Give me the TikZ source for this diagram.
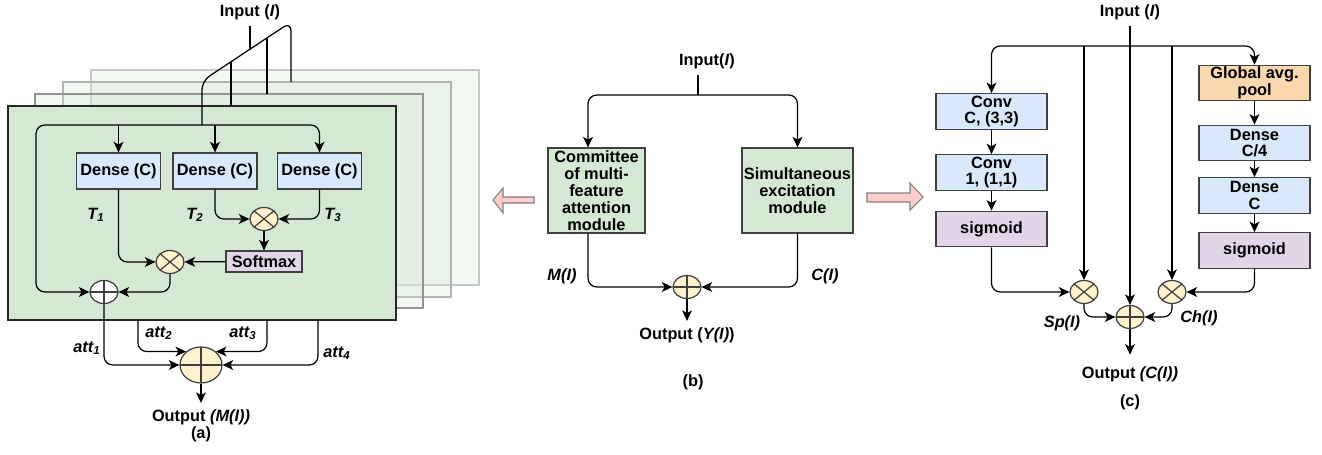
\documentclass[tikz,border=0pt]{standalone}
\usepackage{fontspec}
\setmainfont{Liberation Sans}
\usetikzlibrary{arrows.meta,positioning,shapes.geometric}

\definecolor{modgreen}{HTML}{D5E8D4}
\definecolor{densblue}{HTML}{DAE8FC}
\definecolor{sigpurple}{HTML}{E1D5E7}
\definecolor{poolorange}{HTML}{FAD7AC}
\definecolor{opyellow}{HTML}{FFF2CC}
\definecolor{hintpink}{HTML}{FFCCCC}

\tikzset{
  every node/.append style={font=\fontsize{9.3}{9.6}\selectfont\bfseries},
  blk/.style={draw=black!75, fill=#1, align=center, inner sep=0pt,
    minimum width=2.22cm, minimum height=0.71cm},
  opcirc/.style={ellipse, draw=black!75, fill=opyellow, inner sep=0pt,
    minimum width=0.56cm, minimum height=0.46cm},
  mul/.style={opcirc, path picture={
    \draw[black!75] (path picture bounding box.south west) -- (path picture bounding box.north east)
      (path picture bounding box.north west) -- (path picture bounding box.south east);}},
  add/.style={opcirc, path picture={
    \draw[black!75] (path picture bounding box.south) -- (path picture bounding box.north)
      (path picture bounding box.west) -- (path picture bounding box.east);}},
  arr/.style={-{Stealth[length=6pt,width=5.6pt,inset=1.6pt]}, rounded corners=5pt},
  lbl/.style={font=\fontsize{9.3}{9.6}\selectfont\bfseries\itshape},
}

\begin{document}
\begin{tikzpicture}[x=0.02cm, y=-0.02cm, line width=0.7pt]
  \useasboundingbox (0,0) rectangle (1322,455);

  % ---------- (a) committee of multi-feature attention
  \draw[gray!45, fill=modgreen, fill opacity=0.3] (91,70) rectangle (479,285);
  \draw[gray!60, fill=modgreen, fill opacity=0.3] (63,82) rectangle (451,297);
  \draw[gray!85, fill=modgreen, fill opacity=0.3] (35,94) rectangle (423,308);
  \draw[black!85, fill=modgreen] (8,106) rectangle (396,320);

  \node (inA) at (250,12) {Input (\textit{I})};
  \coordinate (jA) at (202,125);
  \draw[rounded corners=5pt] (jA) -- (202,81) -- (291,22) -- (291,82);
  \draw (inA) -- (inA |- 0,50);
  \draw (231,62) -- (231,106);
  \draw (267,38) -- (267,94);

  \node[blk=densblue, minimum width=1.68cm, minimum height=0.72cm] (d1) at (118.5,171) {Dense (C)};
  \node[blk=densblue, minimum width=1.68cm, minimum height=0.72cm] (d2) at (215,171) {Dense (C)};
  \node[blk=densblue, minimum width=1.68cm, minimum height=0.72cm] (d3) at (319.5,171) {Dense (C)};

  \node[mul] (m1) at (264,219) {};
  \node[blk=sigpurple, minimum width=1.52cm, minimum height=0.42cm] (sm) at (264,261.5) {Softmax};
  \node[mul] (m2) at (170,262) {};
  \node[add, fill=white] (p1) at (104,292) {};
  \node[add, minimum width=0.84cm, minimum height=0.72cm] (P) at (201,365) {};

  \draw[arr] (jA) -| (d3);
  \draw[arr] (jA) -- (36,125) |- (p1);
  \draw[arr] (d1 |- jA) -- (d1);
  \draw[arr] (d2 |- jA) -- (d2);

  \draw[arr] (d2) |- (m1);
  \draw[arr] (d3) |- (m1);
  \draw[arr] (m1) -- (sm);
  \draw[arr] (sm) -- (m2);
  \draw[arr] (d1) |- (m2);
  \draw[arr] (m2) |- (p1);
  \draw[arr] (p1) |- (P);

  \coordinate (a2) at (138,320);
  \coordinate (a3) at (267,320);
  \coordinate (a4) at (318,320);
  \draw[arr] (a2) |- (P.138);
  \draw[arr] (a3) |- (P.42);
  \draw[arr] (a4) |- (P);

  \node[lbl] at (96,215) {T\textsubscript{1}};
  \node[lbl] at (195,215) {T\textsubscript{2}};
  \node[lbl] at (333,215) {T\textsubscript{3}};
  \node[lbl] at (87,348) {att\textsubscript{1}};
  \node[lbl] at (159,333) {att\textsubscript{2}};
  \node[lbl] at (243,333) {att\textsubscript{3}};
  \node[lbl] at (337,353) {att\textsubscript{4}};

  \node (outA) at (201,417) {Output \textit{(M(I))}};
  \draw[arr] (P) -- (outA);
  \node (capA) at (201,434) {(a)};

  % ---------- (b) overall block
  \node (inB) at (707,61) {Input(\textit{I})};
  \coordinate (jB) at (698,95);
  \draw (jB |- inB.south) -- (jB);

  \node[blk=modgreen, minimum width=1.94cm, minimum height=1.7cm] (cm) at (596.5,190.5)
    {Committee\\of multi-\\feature\\attention\\module};
  \node[blk=modgreen, minimum width=2.22cm, minimum height=1.7cm] (se) at (797.5,190.5)
    {Simultaneous\\excitation\\module};
  \node[add] (pB) at (687,287) {};

  \draw[arr] (jB) -| ([xshift=-0.17cm]cm.north);
  \draw[arr] (jB) -| (se);
  \draw[arr] ([xshift=-0.17cm]cm.south) |- (pB);
  \draw[arr] (se) |- (pB);

  \node[lbl] at (562,276) {M(I)};
  \node[lbl] at (825,276) {C(I)};
  \node (outB) at (687,335) {Output (\textit{Y(I)})};
  \draw[arr] (pB) -- (outB);
  \node (capB) at (693,382) {(b)};

  % links to (a) and (c)
  \draw[gray, line width=0.6pt, fill=hintpink] (534,197) -- (503,197) -- (503,188) -- (493,200)
    -- (503,213) -- (503,203) -- (534,203) -- cycle;
  \draw[gray, line width=0.6pt, fill=hintpink] (867,193) -- (910,193) -- (910,183) -- (923,197)
    -- (910,210) -- (910,202) -- (867,202) -- cycle;

  % ---------- (c) simultaneous excitation
  \node (inC) at (1130,12) {Input (\textit{I})};
  \coordinate (jC) at (1130,46);

  \node[blk=densblue] (cv1) at (991.5,111.5) {Conv\\C, (3,3)};
  \node[blk=densblue] (cv2) at (991.5,172.5) {Conv\\1, (1,1)};
  \node[blk=sigpurple] (sgL) at (991.5,229) {sigmoid};
  \node[blk=poolorange] (gap) at (1254.5,83) {Global avg.\\pool};
  \node[blk=densblue] (dn1) at (1254.5,143) {Dense\\C/4};
  \node[blk=densblue] (dn2) at (1254.5,195.5) {Dense\\C};
  \node[blk=sigpurple] (sgR) at (1254.5,250.5) {sigmoid};

  \node[mul] (mL) at (1084,292) {};
  \node[mul] (mR) at (1172,292) {};
  \node[add] (pC) at (1130,317) {};

  \draw[arr] (jC) -| (cv1);
  \draw[arr] (jC) -| (gap);
  \draw[arr] (cv1) -- (cv2);
  \draw[arr] (cv2) -- (sgL);
  \draw[arr] (gap) -- (dn1);
  \draw[arr] (dn1) -- (dn2);
  \draw[arr] (dn2) -- (sgR);
  \draw[arr] (mL |- jC) -- (mL);
  \draw[arr] (mR |- jC) -- (mR);
  \draw[arr] (inC) -- (pC);
  \draw[arr] (sgL) |- (mL);
  \draw[arr] (sgR) |- (mR);
  \draw[arr] (mL) |- (pC);
  \draw[arr] (mR) |- (pC);

  \node[lbl] at (1062,323) {Sp(I)};
  \node[lbl] at (1199,318) {Ch(I)};
  \node (outC) at (1130,374) {Output \textit{(C(I))}};
  \draw[arr, shorten >=3pt] (pC) -- (outC);
  \node (capC) at (1130,402) {(c)};
\end{tikzpicture}
\end{document}
